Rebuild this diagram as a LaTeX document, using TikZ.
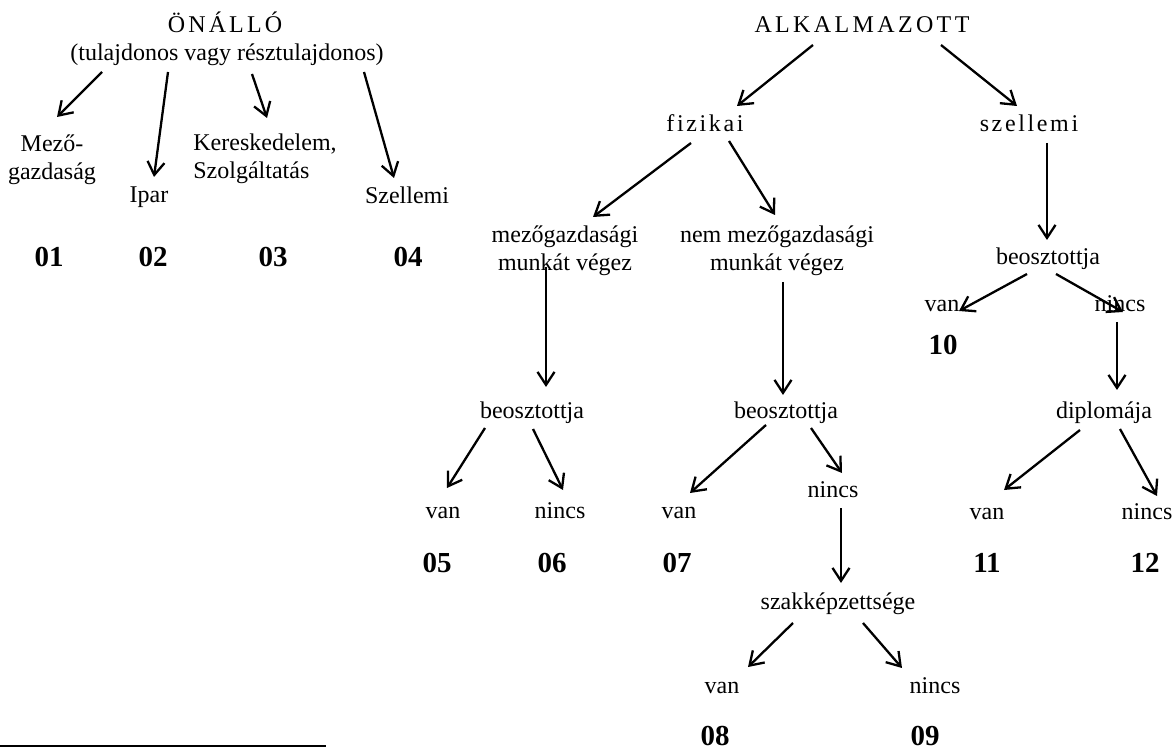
\documentclass[tikz,border=0pt]{standalone}
\usepackage{fontspec}
\setmainfont{Liberation Serif}
\usepackage{tikz}
\usetikzlibrary{calc, arrows.meta}
\tikzset{
 ritka/.style={inner sep=0pt, text height=8.5pt, text depth=2.5pt,
    font=\fontsize{12}{13.8}\selectfont\addfontfeature{LetterSpace=#1}}
}

\begin{document}
\begin{tikzpicture}[x=0.5pt, y=-0.5pt]
\tikzstyle{szo}=[inner sep=0pt, text height=8.5pt, text depth=2.5pt, font=\fontsize{12}{13.8}\selectfont]
\tikzstyle{ketsor}=[inner sep=0pt, align=center, font=\fontsize{12}{13.8}\selectfont]
\tikzstyle{kod}=[inner sep=0pt, text height=10pt, text depth=0pt, font=\fontsize{14.5}{17}\selectfont\bfseries]
\tikzstyle{connect}=[-{Straight Barb[length=6.5pt,width=8.5pt]}, line width=1.15pt]
\useasboundingbox (0,0) rectangle (1175,749);
% 1. Nodes, left
%%%%%%%%%%
\node[ritka=13] (onallo) at (225,27) {ÖNÁLLÓ};
\node[szo] (tulaj) at (227,55) {(tulajdonos vagy résztulajdonos)};
\node[ketsor] (mezo) at (52,160) {Mező-\\gazdaság};
\node[szo] (ipar) at (149,197) {Ipar};
\node[ketsor, align=left, anchor=west] (keres) at (193,159) {Kereskedelem,\\Szolgáltatás};
\node[szo] (szell1) at (407,198) {Szellemi};
\node[kod] (k01) at (49,257) {01};
\node[kod] (k02) at (153,257) {02};
\node[kod] (k03) at (273,257) {03};
\node[kod] (k04) at (408,257) {04};
% 2. Nodes, right
%%%%%%%%%%
\node[ritka=14] (alk) at (862,27) {ALKALMAZOTT};
\node[ritka=11] (fiz) at (705,126) {fizikai};
\node[ritka=11] (szell2) at (1029,126) {szellemi};
\node[ketsor] (mg) at (565,251) {mezőgazdasági\\munkát végez};
\node[ketsor] (nem) at (777,251) {nem mezőgazdasági\\munkát végez};
\node[szo] (beo1) at (532,412) {beosztottja};
\node[szo] (beo2) at (786,412) {beosztottja};
\node[szo] (beo3) at (1048,258) {beosztottja};
\node[szo] (van5) at (443,512) {van};
\node[szo] (nincs6) at (560,512) {nincs};
\node[szo] (van7) at (679,512) {van};
\node[szo] (nincs7) at (833,491) {nincs};
\node[szo] (szak) at (838,603) {szakképzettsége};
\node[szo] (van8) at (722,687) {van};
\node[szo] (nincs9) at (935,687) {nincs};
\node[szo] (van10) at (942,306) {van};
\node[szo] (nincs10) at (1120,306) {nincs};
\node[szo] (dipl) at (1104,412) {diplomája};
\node[szo] (van11) at (987,513) {van};
\node[szo] (nincs12) at (1147,513) {nincs};
\node[kod] (k05) at (437,562) {05};
\node[kod] (k06) at (552,562) {06};
\node[kod] (k07) at (677,562) {07};
\node[kod] (k08) at (715,735) {08};
\node[kod] (k09) at (925,735) {09};
\node[kod] (k10) at (943,345) {10};
\node[kod] (k11) at (987,563) {11};
\node[kod] (k12) at (1145,563) {12};
% 3. Arrows
%%%%%%%%%%%
\path ($(tulaj)+(-125,17)$) edge [connect] ($(mezo)+(5,-43)$)
      ($(tulaj)+(-59,17)$)  edge [connect] ($(ipar)+(5,-20)$)
      ($(tulaj)+(25,19)$)   edge [connect] ($(keres.west)+(74,-41)$)
      ($(tulaj)+(137,17)$)  edge [connect] ($(szell1)+(-13,-20)$);
\path ($(alk)+(-49,18)$)    edge [connect] ($(fiz)+(32,-20)$)
      ($(alk)+(79,18)$)     edge [connect] ($(szell2)+(-12,-20)$)
      ($(fiz)+(-14,17)$)    edge [connect] ($(mg)+(28,-34)$)
      ($(fiz)+(24,15)$)     edge [connect] ($(nem)+(-2,-36)$)
      ($(szell2)+(18,17)$)  edge [connect] ($(beo3)+(-1,-18)$)
      ($(mg)+(-19,16)$)     edge [connect] ($(beo1)+(14,-25)$)
      ($(nem)+(6,31)$)      edge [connect] ($(beo2)+(-3,-17)$);
\path ($(beo1)+(-47,16)$)   edge [connect] ($(van5)+(4,-24)$)
      ($(beo1)+(1,17)$)     edge [connect] ($(nincs6)+(3,-22)$)
      ($(beo2)+(-20,13)$)   edge [connect] ($(van7)+(11,-19)$)
      ($(beo2)+(25,16)$)    edge [connect] ($(nincs7)+(9,-18)$)
      ($(nincs7)+(8,17)$)   edge [connect] ($(szak)+(3,-20)$)
      ($(szak)+(-45,20)$)   edge [connect] ($(van8)+(26,-20)$)
      ($(szak)+(25,20)$)    edge [connect] ($(nincs9)+(-33,-19)$);
\path ($(beo3)+(-21,16)$)   edge [connect] ($(van10)+(17,5)$)
      ($(beo3)+(8,16)$)     edge [connect] ($(nincs10)+(3,6)$)
      ($(nincs10)+(-3,16)$) edge [connect] ($(dipl)+(13,-22)$)
      ($(dipl)+(-24,18)$)   edge [connect] ($(van11)+(17,-23)$)
      ($(dipl)+(16,17)$)    edge [connect] ($(nincs12)+(10,-17)$);
% footnote rule
\draw[line width=1.2pt] (0,746) -- (326,746);
\end{tikzpicture}
\end{document}
